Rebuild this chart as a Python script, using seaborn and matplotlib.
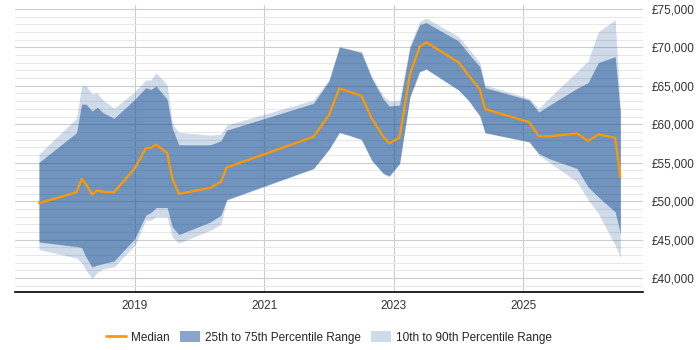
import numpy as np
import seaborn as sns
import matplotlib.pyplot as plt
from matplotlib.ticker import MultipleLocator, FuncFormatter

# Dates as decimal years
years = [2017.52, 2018.10, 2018.18, 2018.25, 2018.34, 2018.42, 2018.51, 2018.68,
         2019.00, 2019.17, 2019.25, 2019.33, 2019.50, 2019.58, 2019.68, 2020.17,
         2020.33, 2020.42, 2021.76, 2022.00, 2022.16, 2022.31, 2022.50, 2022.66,
         2022.84, 2022.93, 2023.09, 2023.25, 2023.40, 2023.50, 2024.00, 2024.15,
         2024.33, 2024.41, 2025.09, 2025.24, 2025.41, 2025.83, 2026.00, 2026.16,
         2026.42, 2026.50]

median = [49740, 51170, 52900, 52180, 50870, 51390, 51220, 51170,
          54260, 56900, 56940, 57330, 56290, 52960, 50960, 51740,
          52520, 54390, 58370, 61200, 64670, 64230, 63710, 60770,
          58370, 57510, 58290, 66500, 70090, 70660, 68060, 66410,
          64540, 61980, 60290, 58470, 58430, 58820, 57820, 58690,
          58240, 53160]

p75 = [55040, 58900, 62630, 62600, 61720, 62200, 61500, 60770,
       63240, 64760, 64540, 64970, 63240, 59470, 57330, 57330,
       57850, 59240, 62720, 65630, 70010, 69750, 69310, 65980,
       63240, 62370, 62500, 69960, 72920, 73220, 70830, 69230,
       67490, 64760, 63150, 61590, 62500, 64670, 65400, 68010,
       68790, 61500]

p25 = [44700, 44100, 43970, 42700, 41450, 41700, 41890, 42230,
       45140, 48180, 48530, 49180, 49180, 46660, 45670, 47310,
       48180, 50220, 54260, 56770, 58940, 58590, 58040, 55340,
       53610, 53300, 54910, 63580, 66840, 67190, 64450, 63150,
       61070, 58900, 57720, 56210, 55500, 54260, 51860, 50560,
       48610, 45800]

p90 = [56120, 60770, 64970, 64970, 63930, 64100, 63150, 62070,
       64230, 65760, 65760, 66710, 65100, 60120, 58940, 58590,
       58720, 59890, 63150, 65800, 70100, 69800, 69480, 66200,
       63670, 63020, 63150, 70310, 73350, 73790, 71400, 69880,
       68010, 65100, 63370, 62070, 63500, 66840, 68230, 72050,
       73570, 61850]

p10 = [43710, 42620, 42000, 41000, 39940, 40700, 41240, 41450,
       44270, 47530, 47530, 47960, 47960, 45350, 44570, 46230,
       47000, 50100, 54200, 56700, 58900, 58500, 58000, 55200,
       53550, 53170, 54860, 63580, 66840, 67190, 64450, 63150,
       61070, 58900, 57720, 55990, 55000, 52520, 50220, 48400,
       44270, 42670]

year_ticks = [2019, 2021, 2023, 2025]

sns.set_style("white")
plt.rcParams['font.family'] = ['Liberation Sans', 'DejaVu Sans']

fig = plt.figure(figsize=(7, 3.5), dpi=100)
ax = fig.add_axes([0.0214, 0.1657, 0.8972, 0.82])

band = "#144e94"
orange = "#ff9900"

ax.fill_between(years, p10, p90, color=band, alpha=0.2, linewidth=0, zorder=2,
                label="10th to 90th Percentile Range")
ax.fill_between(years, p25, p75, color=band, alpha=0.5, linewidth=0, zorder=3,
                label="25th to 75th Percentile Range")
sns.lineplot(x=years, y=median, ax=ax, color=orange, linewidth=1.6, zorder=4,
             label="Median")

ax.set_xlim(2017.15, 2026.85)
ax.set_ylim(38200, 75500)

ax.yaxis.tick_right()
ax.yaxis.set_major_locator(MultipleLocator(5000))
ax.yaxis.set_minor_locator(MultipleLocator(1000))
ax.yaxis.set_major_formatter(FuncFormatter(lambda v, p: f"£{int(v):,}"))
ax.set_xticks(year_ticks)
ax.set_xticklabels([str(y) for y in year_ticks])

ax.grid(which='major', axis='both', color='#cccccc', linewidth=0.8, zorder=0)
ax.grid(which='minor', axis='y', color='#e8e8e8', linewidth=0.8, zorder=0)
ax.set_axisbelow(True)

for s in ['left', 'right', 'top']:
    ax.spines[s].set_visible(False)
ax.spines['bottom'].set_color('black')
ax.spines['bottom'].set_linewidth(1.2)

ax.tick_params(axis='y', which='both', length=0, pad=6, labelsize=8.5, labelcolor='#333333')
ax.tick_params(axis='x', length=0, pad=6, labelsize=8.5, labelcolor='#333333')

h, l = ax.get_legend_handles_labels()
order = [l.index("Median"), l.index("25th to 75th Percentile Range"),
         l.index("10th to 90th Percentile Range")]
ax.legend([h[i] for i in order], [l[i] for i in order], loc='upper center',
          bbox_to_anchor=(0.5, -0.1), ncol=3, frameon=False, fontsize=8.5,
          handlelength=1.7, handleheight=1.0, columnspacing=0.85, handletextpad=0.45)
for line in ax.get_legend().get_lines():
    line.set_linewidth(2)

fig.savefig("out.png", dpi=100)
